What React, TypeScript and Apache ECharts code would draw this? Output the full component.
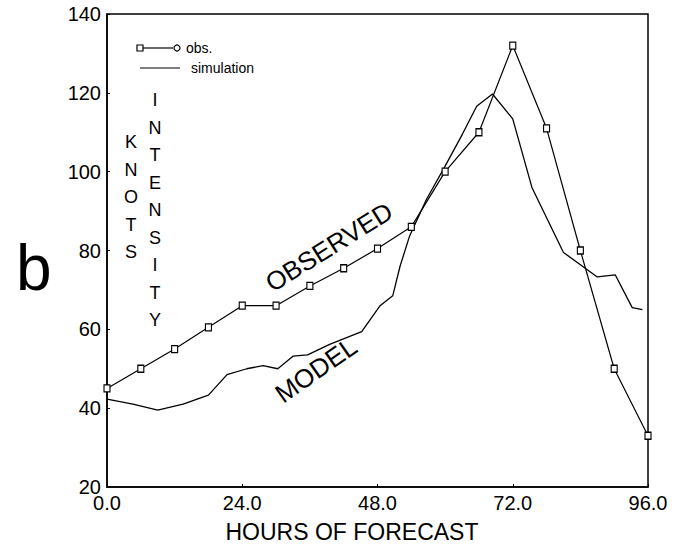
import React, { useEffect, useRef } from "react";
import * as echarts from "echarts";

// Observed intensity (knots), every 6 hours of forecast
const obsHours = [0, 6, 12, 18, 24, 30, 36, 42, 48, 54, 60, 66, 72, 78, 84, 90, 96];
const obsValues = [45, 50, 55, 60.5, 66, 66, 71, 75.5, 80.5, 86, 100, 110, 132, 111, 80, 50, 33];

// Simulated (model) intensity
const simHours = [0, 4.6, 9, 13.5, 18, 21.3, 24.8, 27.7, 30.3, 33, 35.6, 39.5, 45.2, 48.4, 50.7, 52, 53.7, 56.7, 60, 63.1, 65.6, 68.4, 72, 75.4, 81, 87, 90.2, 93.2, 95];
const simValues = [42.3, 41, 39.5, 41, 43.3, 48.5, 50, 50.8, 50, 53.2, 53.5, 56.2, 59.4, 65.9, 68.5, 76, 83.7, 93, 101.4, 109.6, 116.6, 119.7, 113.4, 96, 79.5, 73.3, 73.8, 65.5, 65];

const knotsLetters = ["K", "N", "O", "T", "S"];
const intensityLetters = ["I", "N", "T", "E", "N", "S", "I", "T", "Y"];

const FONT = "Liberation Sans";

export default function App() {
  const ref = useRef<HTMLDivElement>(null);
  useEffect(() => {
    if (!ref.current) return;
    const chart = echarts.init(ref.current, undefined, { renderer: "svg" });
    const graphics: any[] = [];
    // big "b"
    graphics.push({
      type: "text", left: 16, top: 236,
      style: { text: "b", font: `300 64px ${FONT}`, fill: "#000" },
    });
    // legend
    graphics.push(
      { type: "rect", shape: { x: 137, y: 45, width: 6, height: 6 }, style: { fill: "#fff", stroke: "#000", lineWidth: 1.2 } },
      { type: "line", shape: { x1: 143, y1: 48, x2: 173, y2: 48 }, style: { stroke: "#000", lineWidth: 1.2 } },
      { type: "circle", shape: { cx: 177, cy: 48, r: 3 }, style: { fill: "#fff", stroke: "#000", lineWidth: 1.2 } },
      { type: "text", x: 186, y: 48, style: { text: "obs.", font: `14px ${FONT}`, fill: "#000", textVerticalAlign: "middle" } },
      { type: "line", shape: { x1: 140, y1: 68, x2: 180, y2: 68 }, style: { stroke: "#000", lineWidth: 1.2 } },
      { type: "text", x: 191, y: 68, style: { text: "simulation", font: `14px ${FONT}`, fill: "#000", textVerticalAlign: "middle" } }
    );
    knotsLetters.forEach((ch, i) => {
      graphics.push({
        type: "text", x: 131, y: 142 + i * 27.5,
        style: { text: ch, font: `18px ${FONT}`, fill: "#000", textAlign: "center", textVerticalAlign: "middle" },
      });
    });
    intensityLetters.forEach((ch, i) => {
      graphics.push({
        type: "text", x: 155, y: 100 + i * 27.5,
        style: { text: ch, font: `18px ${FONT}`, fill: "#000", textAlign: "center", textVerticalAlign: "middle" },
      });
    });
    graphics.push({
      type: "text", x: 329, y: 247, rotation: (32 * Math.PI) / 180,
      style: { text: "OBSERVED", font: `26px ${FONT}`, fill: "#000", textAlign: "center", textVerticalAlign: "middle" },
    });
    graphics.push({
      type: "text", x: 316, y: 370, rotation: (35 * Math.PI) / 180,
      style: { text: "MODEL", font: `26px ${FONT}`, fill: "#000", textAlign: "center", textVerticalAlign: "middle" },
    });
    graphics.push({
      type: "text", x: 352, y: 532,
      style: { text: "HOURS OF FORECAST", font: `23px ${FONT}`, fill: "#000", textAlign: "center", textVerticalAlign: "middle" },
    });

    chart.setOption({
      animation: false,
      backgroundColor: "#fff",
      grid: { left: 107, right: 28, top: 14, bottom: 61, show: true, borderColor: "#000", borderWidth: 1.5, backgroundColor: "transparent" },
      xAxis: {
        type: "value", min: 0, max: 96, interval: 24,
        axisLine: { show: true, lineStyle: { color: "#000", width: 1.5 } },
        axisTick: { show: true, inside: true, length: 3, lineStyle: { color: "#000" } },
        splitLine: { show: false },
        axisLabel: { color: "#000", fontFamily: FONT, fontSize: 20, margin: 6, formatter: (v: number) => v.toFixed(1) },
      },
      yAxis: {
        type: "value", min: 20, max: 140, interval: 20,
        axisLine: { show: true, lineStyle: { color: "#000", width: 1.5 } },
        axisTick: { show: true, inside: true, length: 3, lineStyle: { color: "#000" } },
        splitLine: { show: false },
        axisLabel: { color: "#000", fontFamily: FONT, fontSize: 20, margin: 6 },
      },
      series: [
        {
          type: "line", name: "obs.",
          data: obsHours.map((h, i) => [h, obsValues[i]]),
          symbol: "rect", symbolSize: [6, 7],
          itemStyle: { color: "#fff", borderColor: "#000", borderWidth: 1.2 },
          lineStyle: { color: "#000", width: 1.2 },
          z: 3,
        },
        {
          type: "line", name: "simulation",
          data: simHours.map((h, i) => [h, simValues[i]]),
          symbol: "none",
          lineStyle: { color: "#000", width: 1.3 },
        },
      ],
      graphic: graphics,
    });
    return () => chart.dispose();
  }, []);
  return <div ref={ref} style={{ position: "fixed", left: 0, top: 0, width: 676, height: 548 }} />;
}
